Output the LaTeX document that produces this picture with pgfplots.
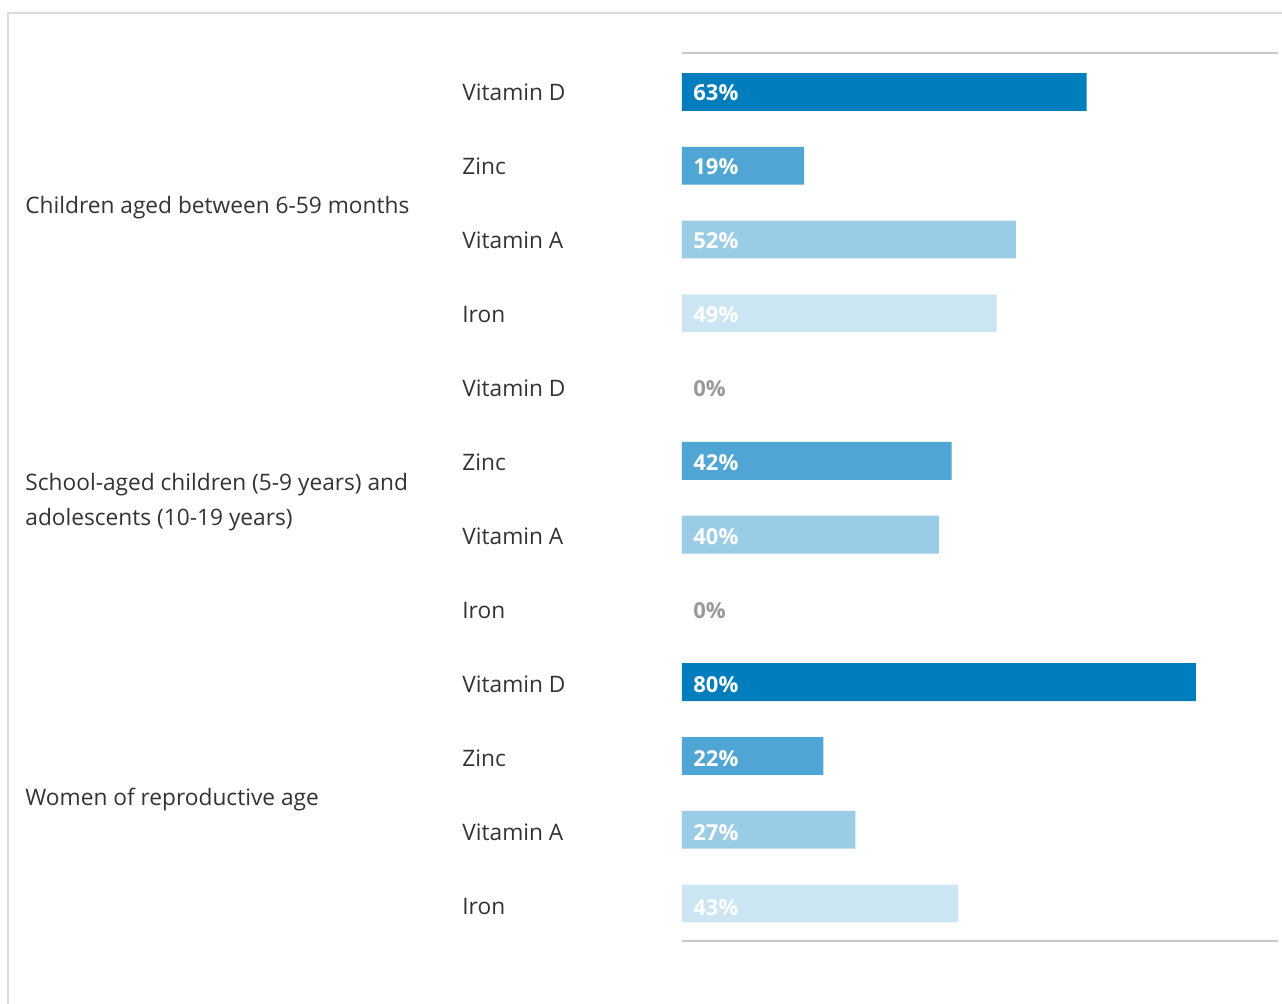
\documentclass[border=0pt]{standalone}
\usepackage{pgfplots}
\pgfplotsset{compat=1.18}
\usepackage{fontspec}
\setmainfont{Open Sans}
\definecolor{vd}{HTML}{007DBD}
\definecolor{zn}{HTML}{4FA5D3}
\definecolor{va}{HTML}{9BCCE5}
\definecolor{fe}{HTML}{CCE5F2}
\definecolor{txt}{HTML}{333333}
\definecolor{zero}{HTML}{999999}
\definecolor{gridc}{HTML}{C8C8C8}
\definecolor{framec}{HTML}{DADADA}
\tikzset{
  labbase/.style={font=\fontsize{11.35}{17.5}\selectfont, text=txt, anchor=west, inner sep=0pt},
  lab/.style={labbase, text height=0.72em, text depth=0pt},
}
\pgfplotsset{
  bars/.style={xbar, bar shift=0pt, bar width=0.513, draw=none},
}
\begin{document}
\begin{tikzpicture}
\useasboundingbox (0,0) rectangle (641pt,502pt);
\draw[framec, line width=0.6pt] (4pt,0) -- (4pt,495.5pt) -- (641pt,495.5pt);
\begin{axis}[
  at={(341pt,31.5pt)}, anchor=south west,
  scale only axis, width=298pt, height=444pt,
  xmin=0, xmax=92.8, ymin=-11.508, ymax=0.528,
  axis x line=box, axis y line=none,
  xtick=\empty, ytick=\empty,
  axis line style={gridc, line width=0.7pt},
  clip=false,
]
% bars (the two 0% values draw no bar)
\addplot[bars, fill=vd] coordinates {(63,0) (80,-8)};
\addplot[bars, fill=zn] coordinates {(19,-1) (42,-5) (22,-9)};
\addplot[bars, fill=va] coordinates {(52,-2) (40,-6) (27,-10)};
\addplot[bars, fill=fe] coordinates {(49,-3) (43,-11)};
% value labels on bars
\addplot[only marks, mark=none, point meta=explicit symbolic,
  nodes near coords={\pgfplotspointmeta\%},
  every node near coord/.style={anchor=west, xshift=5.5pt, yshift=-0.8pt, text=white, font=\bfseries\fontsize{11}{13}\selectfont, text height=0.72em, text depth=0pt, inner sep=0pt}]
  coordinates {(0,0) [63] (0,-1.0033) [19] (0,-2.0067) [52] (0,-3.01) [49]
               (0,-5.0167) [42] (0,-6.02) [40]
               (0,-8.0267) [80] (0,-9.03) [22] (0,-10.0333) [27] (0,-11.0367) [43]};
\addplot[only marks, mark=none, point meta=explicit symbolic,
  nodes near coords={\pgfplotspointmeta\%},
  every node near coord/.style={anchor=west, xshift=5.5pt, yshift=-0.8pt, text=zero, font=\bfseries\fontsize{11}{13}\selectfont, text height=0.72em, text depth=0pt, inner sep=0pt}]
  coordinates {(0,-4.0133) [0] (0,-7.0233) [0]};
% category labels
\addplot[only marks, mark=none, point meta=explicit symbolic,
  nodes near coords={\pgfplotspointmeta},
  every node near coord/.style={lab, xshift=-110pt, yshift=-0.75pt}]
  coordinates {(0,0) [Vitamin D] (0,-1.0033) [Zinc] (0,-2.0067) [Vitamin A] (0,-3.01) [Iron]
               (0,-4.0133) [Vitamin D] (0,-5.0167) [Zinc] (0,-6.02) [Vitamin A] (0,-7.0233) [Iron]
               (0,-8.0267) [Vitamin D] (0,-9.03) [Zinc] (0,-10.0333) [Vitamin A] (0,-11.0367) [Iron]};
\node[lab, xshift=-328.5pt, yshift=-1.6pt] at (axis cs:0,-1.505) {Children aged between 6-59 months};
\node[labbase, xshift=-328.5pt, yshift=-1.6pt, align=left] at (axis cs:0,-5.518) {School-aged children (5-9 years) and\\adolescents (10-19 years)};
\node[lab, xshift=-328.5pt, yshift=-1.6pt] at (axis cs:0,-9.532) {Women of reproductive age};
\end{axis}
\end{tikzpicture}
\end{document}
